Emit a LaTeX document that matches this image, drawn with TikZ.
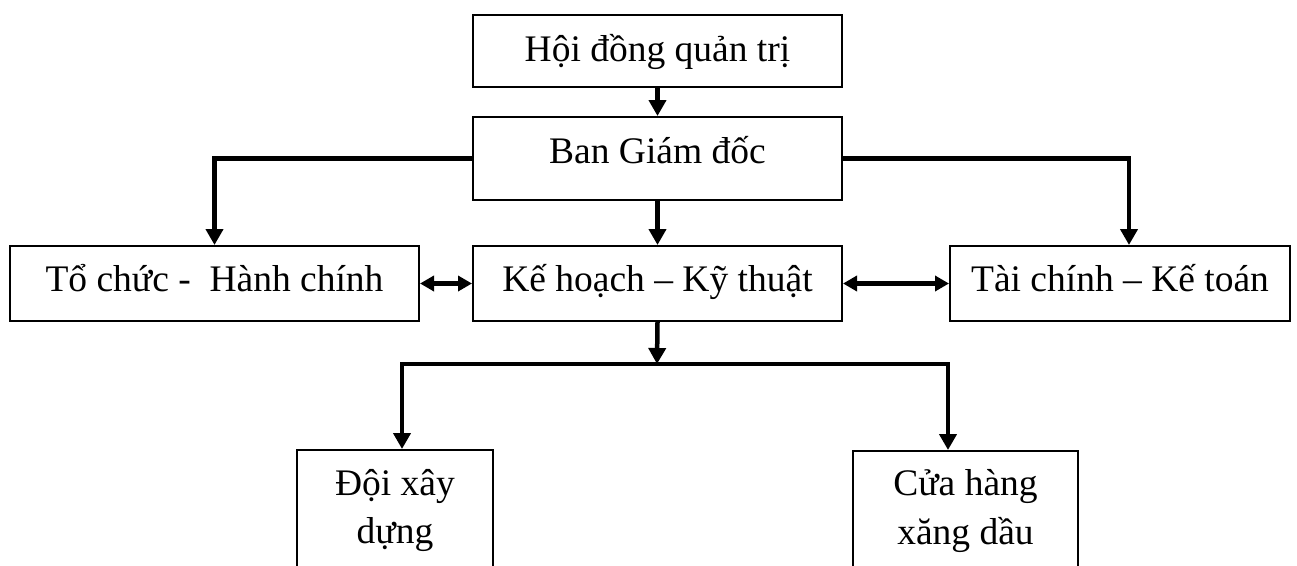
\documentclass[tikz,border=0pt]{standalone}
\usepackage{fontspec}
\setmainfont{Liberation Serif}
\usetikzlibrary{arrows.meta}
\begin{document}
\begin{tikzpicture}[x=1pt,y=-1pt,
  box/.style={draw, line width=2pt, inner sep=0pt, font=\fontsize{37.5}{48}\selectfont},
  arr/.style={line width=4.5pt, -{Triangle[width=17pt,length=16pt]}},
  darr/.style={line width=4.5pt, {Triangle[width=15pt,length=14pt]}-{Triangle[width=15pt,length=14pt]}}]
\clip (0,0) rectangle (1297,565);
\node[box, minimum width=369pt, text height=46pt, text depth=26pt] (hdqt) at (657.5,51) {Hội đồng quản trị};
\node[box, minimum width=369pt, text height=46pt, text depth=37pt] (bgd) at (657.5,158.5) {Ban Giám đốc};
\node[box, minimum width=409pt, text height=45pt, text depth=30pt] (tchc) at (214.5,283.5) {Tổ chức -~ Hành chính};
\node[box, minimum width=369pt, text height=45pt, text depth=30pt] (khkt) at (657.5,283.5) {Kế hoạch – Kỹ thuật};
\node[box, minimum width=340pt, text height=45pt, text depth=30pt] (tckt) at (1120,283.5) {Tài chính – Kế toán};
\node[box, align=center, minimum width=196pt, minimum height=120pt] (dxd) at (395,510) {Đội xây\\dựng};
\node[box, align=center, minimum width=225pt, minimum height=120pt] (chxd) at (965.5,511) {Cửa hàng\\xăng dầu};
\coordinate (j) at (657,364);
\draw[arr] (hdqt.south) -- (bgd.north);
\draw[arr] (bgd.west) -| (tchc.north);
\draw[arr] (bgd.east) -| ([xshift=9pt]tckt.north);
\draw[arr] (bgd.south) -- (khkt.north);
\draw[darr] (tchc.east) -- (khkt.west);
\draw[darr] (khkt.east) -- (tckt.west);
\draw[arr] (khkt.south) -- (j);
\draw[arr] (j) -| ([xshift=7pt]dxd.north);
\draw[arr] (j) -| ([xshift=-17.5pt]chxd.north);
\end{tikzpicture}
\end{document}
